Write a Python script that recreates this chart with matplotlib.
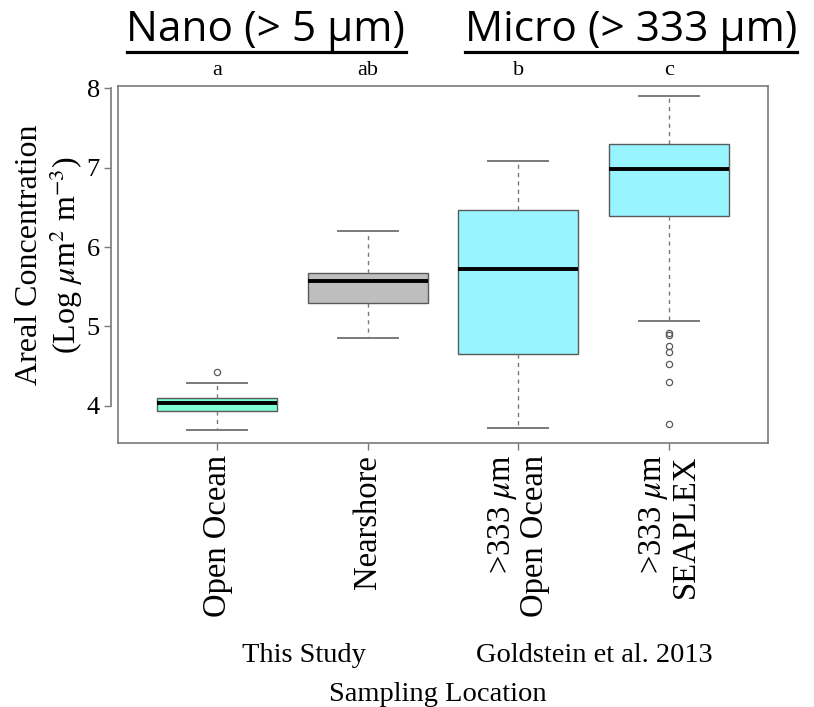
import matplotlib
matplotlib.use('Agg')
import matplotlib.pyplot as plt
from matplotlib.lines import Line2D

plt.rcParams['font.family'] = ['Liberation Serif', 'DejaVu Serif']
plt.rcParams['mathtext.fontset'] = 'stix'

# box statistics (log um^2 m^-3)
labels = ['Open Ocean', 'Nearshore', '>333 $\\mu$m\nOpen Ocean', '>333 $\\mu$m\nSEAPLEX']
letters = ['a', 'ab', 'b', 'c']
q1 = [3.93, 5.30, 4.65, 6.39]
med = [4.04, 5.57, 5.72, 6.99]
q3 = [4.10, 5.67, 6.47, 7.30]
whislo = [3.70, 4.85, 3.72, 5.07]
whishi = [4.28, 6.20, 7.08, 7.90]
fliers = [[4.42], [], [], [4.92, 4.89, 4.75, 4.68, 4.52, 4.30, 3.77]]
colors = ['#7FFFD4', '#BEBEBE', '#98F5FF', '#98F5FF']

grey = '#7a7a7a'

fig = plt.figure(figsize=(8.14, 7.07), dpi=100)
ax = fig.add_axes([118/814, 1 - 443/707, 650/814, 357/707])

stats = []
for i in range(len(labels)):
    stats.append(dict(q1=q1[i], med=med[i], q3=q3[i], whislo=whislo[i],
                      whishi=whishi[i], fliers=fliers[i]))

bp = ax.bxp(stats, positions=[1, 2, 3, 4], widths=0.8, patch_artist=True,
            showfliers=True,
            boxprops=dict(edgecolor='#5a5a5a', linewidth=1.0),
            medianprops=dict(color='black', linewidth=2.8),
            whiskerprops=dict(color=grey, linestyle=(0, (3, 3)), linewidth=1.0),
            capprops=dict(color=grey, linewidth=1.4),
            capwidths=0.4,
            flierprops=dict(marker='o', markerfacecolor='none', markeredgecolor='#5a5a5a',
                            markersize=4.5, markeredgewidth=0.9))
for patch, c in zip(bp['boxes'], colors):
    patch.set_facecolor(c)

ax.set_xlim(0.34, 4.66)
ax.set_ylim(3.53, 8.03)

for s in ax.spines.values():
    s.set_color(grey)
    s.set_linewidth(1.2)
# R style: y axis line offset from the box
ax.spines['left'].set_position(('outward', 5))
ax.spines['left'].set_bounds(4, 8)
ax.add_line(Line2D([0, 0], [0, 1], transform=ax.transAxes, color=grey, lw=1.2, clip_on=False))

ax.set_yticks([4, 5, 6, 7, 8])
ax.set_yticklabels(['4', '5', '6', '7', '8'], fontsize=19)
ax.set_xticks([1, 2, 3, 4])
ax.set_xticklabels(labels, fontsize=23.5, rotation=90, ha='center', va='top',
                   multialignment='right', linespacing=1.0)
ax.tick_params(axis='both', color=grey, width=1.0, length=5)
ax.tick_params(axis='y', pad=3)
ax.tick_params(axis='x', pad=3.5)

for i, l in enumerate(letters):
    ax.text(i + 1, 8.23, l, ha='center', va='center', fontsize=16, clip_on=False)

fig.text(50/814, 1 - 255/707, 'Areal Concentration\n(Log $\\mu$m$^2$ m$^{-3}$)', rotation=90,
         ha='center', va='center', multialignment='center', fontsize=23, linespacing=1.15)

fig.text(304/814, 1 - 655/707, 'This Study', ha='center', va='center', fontsize=20.5)
fig.text(594/814, 1 - 655/707, 'Goldstein et al. 2013', ha='center', va='center', fontsize=20.5)
fig.text(438/814, 1 - 701/707, 'Sampling Location', ha='center', va='baseline', fontsize=20.5)

# underlined group headers
titles = ['Nano (> 5 \u03bcm)', 'Micro (> 333 \u03bcm)']
title_x = [266/814, 631/814]
heads = []
for t, x in zip(titles, title_x):
    heads.append(fig.text(x, 1 - 41/707, t, ha='center', va='baseline', fontsize=30.5,
                          family=['Open Sans', 'DejaVu Sans']))
fig.canvas.draw()
r = fig.canvas.get_renderer()
for h in heads:
    bb = h.get_window_extent(r).transformed(fig.transFigure.inverted())
    fig.add_artist(Line2D([bb.x0, bb.x1], [1 - 51.5/707, 1 - 51.5/707], transform=fig.transFigure,
                          color='black', lw=2.3))

fig.savefig('out.png', dpi=100)
